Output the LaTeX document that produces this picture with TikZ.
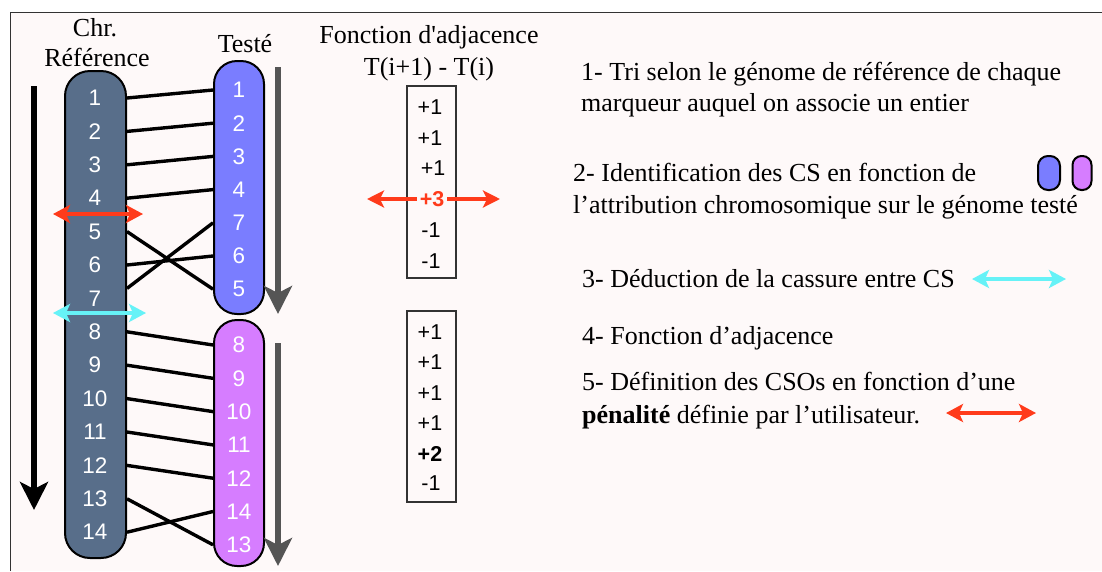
\documentclass[tikz,border=0pt]{standalone}
\usepackage{fontspec}
\setmainfont{Liberation Serif}
\setsansfont{Liberation Sans}
\usepackage{tikz}
\usetikzlibrary{arrows.meta,calc,positioning}

\definecolor{refgrey}{HTML}{586E8A}
\definecolor{tstblue}{HTML}{7A7DFF}
\definecolor{tstmauve}{HTML}{D67DFF}
\definecolor{redarr}{HTML}{FF3B1B}
\definecolor{cyanarr}{HTML}{66F2F7}
\definecolor{backpink}{HTML}{FEF9F9}
\definecolor{darkgrey}{HTML}{555555}

\begin{document}
\begin{tikzpicture}
  [x=1pt,y=-1pt,every node/.style={inner sep=0pt},
   chrom/.style={draw=black,line width=2pt,rounded corners=25pt},
   num/.style={font=\sffamily\fontsize{22.5}{22}\selectfont,text=white},
   val/.style={font=\sffamily\fontsize{21.5}{21}\selectfont},
   lab/.style={font=\fontsize{26}{30}\selectfont,anchor=base west},
   head/.style={font=\fontsize{26}{30}\selectfont,anchor=base},
   link/.style={line width=3.4pt},
   bigarrow/.style={line width=6pt,-{Stealth[width=28pt,length=28pt,inset=7pt]}},
   dblarrow/.style={line width=4pt,{Stealth[width=18pt,length=17pt,inset=4pt]}-{Stealth[width=18pt,length=17pt,inset=4pt]}}]
    \useasboundingbox (0,0) rectangle (1102,571);
    \fill[backpink] (10,12) rectangle (1102,571);
    \draw[black!80,line width=1pt] (10,571) -- (10,12) -- (1102,12);

    % chromosomes
    \node[chrom,fill=refgrey,minimum width=61,minimum height=487] (ref) at (95.5,314.5) {};
    \node[chrom,fill=tstblue,minimum width=50,minimum height=253,rounded corners=23pt] (tb) at (239,187.5) {};
    \node[chrom,fill=tstmauve,minimum width=50,minimum height=246,rounded corners=23pt] (tm) at (239,443) {};

    \foreach \n [count=\k] in {1,...,14}
      \node[num] (r\n) at (95,{98+33.4*(\k-1)}) {\n};
    \foreach \n [count=\k] in {1,2,3,4,7,6,5}
      \node[num] (t\n) at (239,{90+33.2*(\k-1)}) {\n};
    \foreach \n [count=\k] in {8,9,10,11,12,14,13}
      \node[num] (t\n) at (239,{345+33.3*(\k-1)}) {\n};

    % links between the two genomes
    \foreach \n in {1,...,6,8,9,...,14}
      \draw[link] (ref.east |- r\n) -- (tb.west |- t\n);
    \draw[link] ($(ref.east |- r7)+(0,-10)$) -- (tb.west |- t7);

    % headers
    \node[head] (hchr) at (95,36) {Chr.};
    \node[head] (href) at (97,66) {Référence};
    \node[head] (htst) at (245,52) {Testé};
    \node[head] (hfct) at (429,43) {Fonction d\textquotesingle adjacence};
    \node[head] (hfml) at (429,75) {T(i+1) - T(i)};

    % orientation arrows
    \coordinate (o1) at (34,86);  \coordinate (o2) at (34,510);
    \coordinate (g1) at (278,67); \coordinate (g2) at (278,314);
    \coordinate (g3) at (278,343); \coordinate (g4) at (278,566);
    \draw[bigarrow] (o1) -- (o2);
    \draw[bigarrow,darkgrey] (g1) -- (g2);
    \draw[bigarrow,darkgrey] (g3) -- (g4);

    % breakpoints on the reference
    \coordinate (rl) at (53,214);  \coordinate (rr) at (143,214);
    \coordinate (cl) at (53,313);  \coordinate (cr) at (146,313);
    \draw[dblarrow,redarr] (rl) -- (rr);
    \draw[dblarrow,cyanarr] (cl) -- (cr);

    % adjacency values
    \node[draw=black!80,line width=1.2pt,minimum width=49,minimum height=192] (box1) at (431.5,182) {};
    \node[draw=black!80,line width=1.2pt,minimum width=49,minimum height=191] (box2) at (431.5,406.5) {};
    \node[val] (a1) at (430,107) {+1};
    \node[val] (a2) at (430,138) {+1};
    \node[val] (a3) at (433,168) {+1};
    \node[val,text=redarr,font=\sffamily\bfseries\fontsize{21.5}{21}\selectfont,inner xsep=3pt] (a4) at (432,199) {+3};
    \node[val] (a5) at (431,230) {-1};
    \node[val] (a6) at (431,261) {-1};
    \node[val] (b1) at (430,332) {+1};
    \node[val] (b2) at (430,362) {+1};
    \node[val] (b3) at (430,393) {+1};
    \node[val] (b4) at (430,423) {+1};
    \node[val,font=\sffamily\bfseries\fontsize{21.5}{21}\selectfont] (b5) at (430,454) {+2};
    \node[val] (b6) at (431,483) {-1};
    \coordinate (al) at (367,199); \coordinate (ar) at (500,199);
    \draw[redarr,line width=4pt,-{Stealth[width=17pt,length=17pt,inset=4pt]}] (a4.west) -- (al);
    \draw[redarr,line width=4pt,-{Stealth[width=17pt,length=17pt,inset=4pt]}] (a4.east) -- (ar);

    % legend
    \node[lab] (l1) at (581,80) {1- Tri selon le génome de référence de chaque};
    \node[lab] (l1b) at (581,111) {marqueur auquel on associe un entier};
    \node[lab] (l2) at (573,181) {2- Identification des CS en fonction de};
    \node[lab] (l2b) at (573,213) {l’attribution chromosomique sur le génome testé};
    \node[lab] (l3) at (582,287) {3- Déduction de la cassure entre CS};
    \node[lab] (l4) at (582,344) {4- Fonction d’adjacence};
    \node[lab] (l5) at (582,390) {5- Définition des CSOs en fonction d’une};
    \node[lab] (l5b) at (582,423) {\textbf{pénalité} définie par l’utilisateur.};
    \node[chrom,fill=tstblue,minimum width=22,minimum height=34,rounded corners=10pt] (pb) at (1049,173) {};
    \node[chrom,fill=tstmauve,minimum width=19,minimum height=34,rounded corners=9pt] (pm) at (1082,173) {};
    \coordinate (kl) at (972,279); \coordinate (kr) at (1066,279);
    \draw[dblarrow,cyanarr] (kl) -- (kr);
    \coordinate (pl) at (946,413); \coordinate (pr) at (1036,413);
    \draw[dblarrow,redarr] (pl) -- (pr);
\end{tikzpicture}
\end{document}
